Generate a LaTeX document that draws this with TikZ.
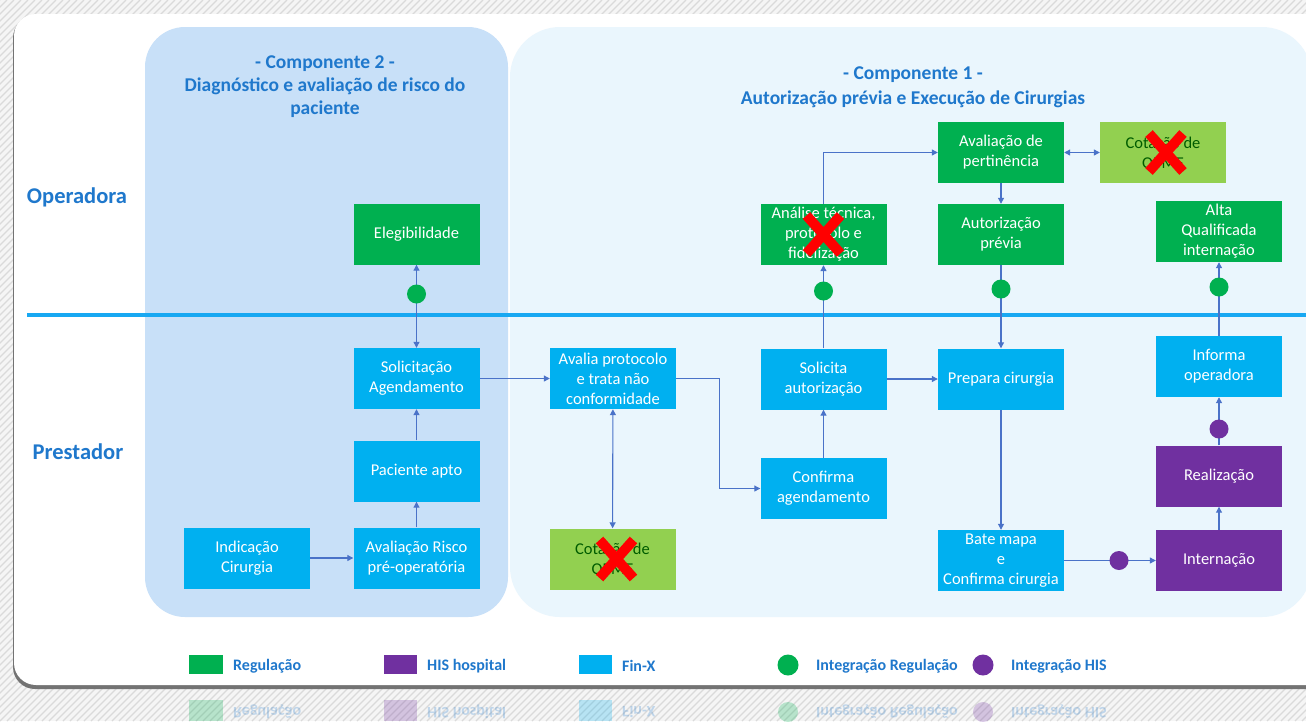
\documentclass[tikz,border=0pt]{standalone}
\usepackage{fontspec}
\setmainfont{Carlito}
\usepackage{tikz}
\usetikzlibrary{arrows.meta,positioning,calc}
\definecolor{regul}{HTML}{00B050}
\definecolor{cotgreen}{HTML}{92D050}
\definecolor{finx}{HTML}{00B0F0}
\definecolor{his}{HTML}{7030A0}
\definecolor{comp2}{HTML}{C8E0F8}
\definecolor{comp1}{HTML}{EAF6FD}
\definecolor{titleblue}{HTML}{1F78CC}
\definecolor{divider}{HTML}{18A8F2}
\definecolor{flowline}{HTML}{4A72C8}
\definecolor{hatch}{HTML}{DADADA}
\tikzstyle{box}=[minimum width=126pt,minimum height=61pt,inner sep=1pt,align=center,text=white,font=\fontsize{16.5}{20}\selectfont]
\tikzstyle{regbox}=[box,fill=regul]
\tikzstyle{cotbox}=[box,fill=cotgreen,text=black!40!green!60!black]
\tikzstyle{finbox}=[box,fill=finx]
\tikzstyle{hisbox}=[box,fill=his]
\tikzstyle{regdot}=[circle,fill=regul,minimum size=19pt,inner sep=0pt]
\tikzstyle{hisdot}=[circle,fill=his,minimum size=19pt,inner sep=0pt]
\tikzstyle{flow}=[draw=flowline,line width=1.1pt,-{Triangle[length=6pt,width=6pt]}]
\tikzstyle{both}=[draw=flowline,line width=1.1pt,{Triangle[length=6pt,width=6pt]}-{Triangle[length=6pt,width=6pt]}]
\tikzstyle{redx}=[draw=red,line width=10pt]
\tikzstyle{lane}=[text=titleblue,font=\fontsize{22.5}{26}\selectfont\bfseries]
\tikzstyle{comptitle}=[text=titleblue,align=center,font=\fontsize{19.5}{23}\selectfont\bfseries]
\tikzstyle{legtext}=[text=titleblue,anchor=west,inner sep=0pt,font=\fontsize{16}{18}\selectfont\bfseries]
\newcommand{\redcross}[1]{\draw[redx] ($(#1)+(-17,-19)$) -- ($(#1)+(17,19)$);
  \draw[redx] ($(#1)+(17,-19)$) -- ($(#1)+(-17,19)$);}

\begin{document}
\begin{tikzpicture}[x=1pt,y=-1pt]
\useasboundingbox (0,0) rectangle (1306,721);
\fill[black!4] (0,0) rectangle (1306,721);
\begin{scope}
\clip (0,0) rectangle (1306,721);
\foreach \i in {-728,-721,...,1306}
  \draw[hatch,line width=1.2pt] (\i,721) -- ++(721,-721);
\end{scope}
\fill[black!55,rounded corners=22pt] (13,16) rectangle (1330,689);
\fill[white,rounded corners=22pt] (14,14) rectangle (1330,685);
\fill[comp1,rounded corners=50pt] (510,27) rectangle (1312,617);
\fill[comp2,rounded corners=40pt] (145,27) rectangle (508,617);
\draw[divider,line width=3.5pt] (27,315) -- (1306,315);

\node[comptitle] (c2title) at (325,86.5) {- Componente 2 -\\Diagnóstico e avaliação de risco do\\paciente};
\node[comptitle,font=\fontsize{19.5}{25}\selectfont\bfseries] (c1title) at (913,87) {- Componente 1 -\\Autorização prévia e Execução de Cirurgias};
\node[lane] (oper) at (77,197) {Operadora};
\node[lane] (prest) at (78,452) {Prestador};

\node[regbox] (eleg) at (416.5,234) {Elegibilidade};
\node[finbox] (solag) at (416.5,378.5) {Solicitação\\Agendamento};
\node[finbox] (apto) at (416.5,471) {Paciente apto};
\node[finbox] (risco) at (416.5,558) {Avaliação Risco\\pré-operatória};
\node[finbox] (indic) at (247,558) {Indicação\\Cirurgia};
\node[finbox] (avalia) at (613,378.5) {Avalia protocolo\\e trata não\\conformidade};
\node[cotbox] (cota) at (612.5,559) {Cotação de\\OPME};
\node[regbox] (analise) at (823.5,234.5) {Análise técnica,\\protocolo e\\fidelização};
\node[finbox] (solaut) at (823.5,379) {Solicita\\autorização};
\node[finbox] (confirma) at (823.5,488.5) {Confirma\\agendamento};
\node[regbox] (pertin) at (1001,152.5) {Avaliação de\\pertinência};
\node[cotbox] (cotb) at (1163,152.5) {Cotação de\\OPME};
\node[regbox] (autprev) at (1001,234.5) {Autorização\\prévia};
\node[finbox] (prepara) at (1001,379) {Prepara cirurgia};
\node[finbox] (bate) at (1001,560.5) {Bate mapa\\e\\Confirma cirurgia};
\node[regbox] (alta) at (1219,231.5) {Alta\\Qualificada\\internação};
\node[finbox] (informa) at (1219,366.5) {Informa\\operadora};
\node[hisbox] (realiz) at (1219,476) {Realização};
\node[hisbox] (intern) at (1219,560.5) {Internação};

\draw[both] (eleg) -- (solag);
\draw[flow] (apto) -- (solag);
\draw[flow] (risco) -- (apto);
\draw[flow] (indic) -- (risco);
\draw[flow] (solag) -- (avalia);
\draw[both] (avalia) -- (cota);
\draw[flow] (avalia.east) -- ++(43,0) |- (confirma.west);
\draw[flow] (confirma) -- (solaut);
\draw[flow] (solaut) -- (analise);
\draw[flow] (analise.north) |- (pertin.west);
\draw[both] (pertin) -- (cotb);
\draw[flow] (pertin) -- (autprev);
\draw[flow] (autprev) -- (prepara);
\draw[flow] (solaut) -- (prepara);
\draw[flow] (prepara) -- (bate);
\draw[flow] (bate) -- (intern);
\draw[flow] (intern) -- (realiz);
\draw[flow] (realiz) -- (informa);
\draw[flow] (informa) -- (alta);

\node[regdot] (dot1) at (416.5,294) {};
\node[regdot] (dot2) at (823.5,291) {};
\node[regdot] (dot3) at (1001,289) {};
\node[regdot] (dot4) at (1219,287) {};
\node[hisdot] (dot5) at (1119,560.5) {};
\node[hisdot] (dot6) at (1219,429) {};

\redcross{analise}
\redcross{$(cotb)+(3,0)$}
\redcross{$(cota)+(4,0)$}

\fill[regul] (189,655) rectangle (223,674);
\node[legtext] (leg1) at (233,666) {Regulação};
\fill[his] (384,655) rectangle (417,674);
\node[legtext] (leg2) at (427,666) {HIS hospital};
\fill[finx] (579,655) rectangle (612,674);
\node[legtext] (leg3) at (622,666) {Fin-X};
\node[regdot,minimum size=21pt] (leg4) at (788,665) {};
\node[legtext] (leg4t) at (816,666) {Integração Regulação};
\node[hisdot,minimum size=21pt] (leg5) at (983,665) {};
\node[legtext] (leg5t) at (1011,666) {Integração HIS};

\begin{scope}[opacity=0.25]
\fill[regul] (189,700) rectangle (223,721);
\fill[his] (384,700) rectangle (417,721);
\fill[finx] (579,700) rectangle (612,721);
\fill[regul] (788,712) circle (10);
\fill[his] (983,712) circle (10);
\node[legtext,yscale=-1] at (233,712) {Regulação};
\node[legtext,yscale=-1] at (427,712) {HIS hospital};
\node[legtext,yscale=-1] at (622,712) {Fin-X};
\node[legtext,yscale=-1] at (816,712) {Integração Regulação};
\node[legtext,yscale=-1] at (1011,712) {Integração HIS};
\end{scope}
\end{tikzpicture}
\end{document}
